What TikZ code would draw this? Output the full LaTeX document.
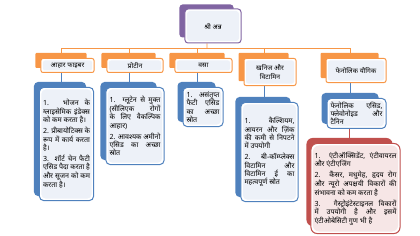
\documentclass[tikz,border=0pt]{standalone}
\usepackage{fontspec}
\newfontfamily\hindi[Script=Devanagari]{Noto Sans}
\usetikzlibrary{positioning, backgrounds, calc}
\definecolor{headviolet}{HTML}{8064A2}
\definecolor{catorange}{HTML}{F79646}
\definecolor{leafblue}{HTML}{4F81BD}
\definecolor{warnred}{HTML}{C0504D}
\definecolor{paper}{HTML}{EDF1F8}
\definecolor{warnpaper}{HTML}{F6E6E6}

\begin{document}
\begin{tikzpicture}[
  x=1bp, y=1bp,
  inset/.style={fill=white, path picture={\fill[#1] ([shift={(2bp,-2bp)}]path picture bounding box.north west) rectangle ([shift={(-2bp,2bp)}]path picture bounding box.south east);}},
  inset/.default=paper,
  head/.style={inset, draw=headviolet, line width=1bp, rounded corners=3bp, minimum width=56bp, minimum height=34bp, font=\hindi\bfseries\fontsize{6.8}{8}\selectfont},
  cat/.style={inset, draw=catorange, line width=1bp, rounded corners=2bp, anchor=north, align=center, inner sep=1bp, minimum height=14bp, font=\hindi\bfseries\fontsize{6.8}{9}\selectfont},
  leaf/.style={inset, draw=leafblue, line width=1bp, rounded corners=4bp, anchor=north, align=justify, inner sep=3.5bp, font=\hindi\fontsize{7.1}{8.3}\selectfont},
  link/.style={line width=0.8bp}
]
  \useasboundingbox (0,0) rectangle (420,236);

  \node[head] (anna) at (213,210) {श्री अन्न};

  \node[cat, minimum width=53bp] (fibre) at (67.5,178) {आहार फाइबर};
  \node[cat, minimum width=56bp] (protein) at (135,178) {प्रोटीन};
  \node[cat, minimum width=57bp] (vasa) at (203.5,178) {वसा};
  \node[cat, minimum width=52bp, minimum height=27bp] (khanij) at (270,178) {खनिज और\\विटामिन};
  \node[cat, minimum width=60bp, minimum height=24bp] (phenol) at (356,178) {फेनोलिक यौगिक};

  \node[leaf, text width=47bp, minimum height=113bp] (fdetail) at (66.5,149)
    {1. भोजन के ग्लाइसेमिक इंडेक्स को कम करता है।\\[3bp]
     2. प्रीबायोटिक्स के रूप में कार्य करता है।\\[3bp]
     3. शॉर्ट चेन फैटी एसिड पैदा करता है और सूजन को कम करता है।};
  \node[leaf, text width=51bp, minimum height=77bp] (pdetail) at (135,149)
    {1. ग्लूटेन से मुक्त (सीलिएक रोगों के लिए वैकल्पिक आहार)\\[3bp]
     2. आवश्यक अमीनो एसिड का अच्छा स्रोत};
  \node[leaf, text width=33bp, minimum height=39bp] (vdetail) at (203,149)
    {1. असंतृप्त फैटी एसिड का अच्छा स्रोत};
  \node[leaf, text width=50bp, minimum height=99bp] (kdetail) at (269.5,134)
    {1. कैल्शियम, आयरन और ज़िंक की कमी से निपटने में उपयोगी\\[3bp]
     2. बी-कॉम्प्लेक्स विटामिन और विटामिन ई का महत्वपूर्ण स्रोत};
  \node[leaf, text width=52bp, minimum height=28bp] (phdetail) at (356.5,138)
    {फेनोलिक एसिड, फ्लेवोनोइड और टैनिन};
  \node[leaf, draw=warnred, inset=warnpaper, rounded corners=6bp, text width=82bp, minimum height=90bp] (phuse) at (355.5,93)
    {1. एंटीऑक्सिडेंट, एंटीवायरल और एंटीएजिंग\\[3bp]
     2. कैंसर, मधुमेह, हृदय रोग और न्यूरो अपक्षयी विकारों की संभावना को कम करता है\\[3bp]
     3. गैस्ट्रोइंटेस्टाइनल विकारों में उपयोगी है और इसमें एंटीओबेसिटी गुण भी है};

  \begin{scope}[on background layer]
    % connectors
    \coordinate (hub) at (207,188);
    \draw[link, catorange] ([xshift=-6bp]anna.south) -- (hub);
    \foreach \n in {fibre, protein, vasa, khanij, phenol}
      \draw[link, catorange] (hub) -| ([xshift=-6bp]\n.north);
    \foreach \a/\b in {fibre/fdetail, protein/pdetail, vasa/vdetail, khanij/kdetail, phenol/phdetail}
      \draw[link, leafblue] ([xshift=-6bp]\a.south) -- ([xshift=-6bp]\a.south |- \b.north);
    \draw[link, warnred] ([xshift=-7bp]phdetail.south) -- ([xshift=-7bp]phdetail.south |- phuse.north);
    % back tabs
    \fill[headviolet, rounded corners=3bp] ([shift={(-5,4)}]anna.north west) rectangle ([shift={(-8,6)}]anna.south east);
    \foreach \n in {fibre, protein, vasa, khanij, phenol}
      \fill[catorange, rounded corners=1bp] ([shift={(-5,5)}]\n.north west) rectangle ([shift={(-8,5)}]\n.south east);
    \foreach \n in {fdetail, pdetail, vdetail, kdetail, phdetail}
      \fill[leafblue, rounded corners=4bp] ([shift={(-5,5)}]\n.north west) rectangle ([shift={(-8,5)}]\n.south east);
    \fill[warnred, rounded corners=6bp] ([shift={(-4,5)}]phuse.north west) rectangle ([shift={(-8,8)}]phuse.south east);
  \end{scope}
\end{tikzpicture}
\end{document}
